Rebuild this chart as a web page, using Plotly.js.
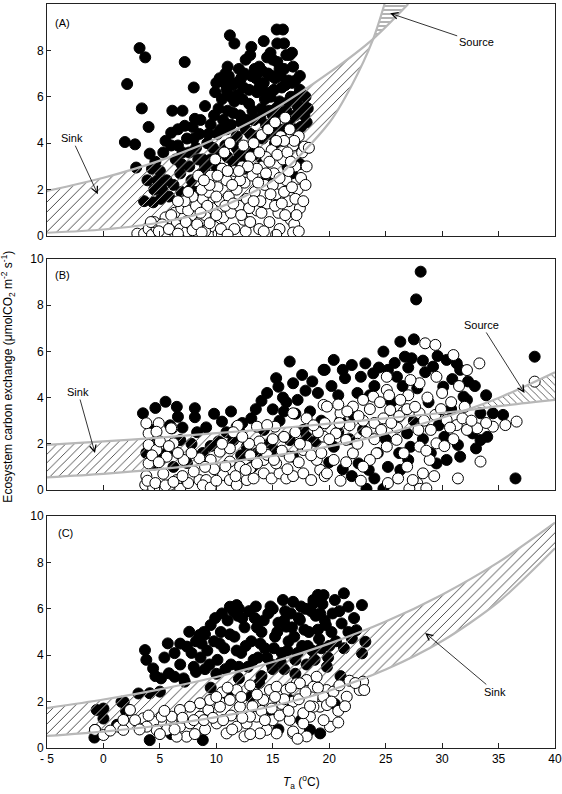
<!DOCTYPE html>
<html>
<head>
<meta charset="utf-8">
<script src="https://cdn.plot.ly/plotly-3.0.1.min.js"></script>
<style>
  html,body{margin:0;padding:0;background:#fff;}
  #chart{width:562px;height:794px;}
</style>
</head>
<body>
<div id="chart"></div>
<script>
// ---- data (T_a in degC, exchange in umol m-2 s-1) ----
const xRange = [-5, 40];
const yRange = [0, 10];
const xTickVals = [-5, 0, 5, 10, 15, 20, 25, 30, 35, 40];
const xTickText = ['- 5', '0', '5', '10', '15', '20', '25', '30', '35', '40'];

// panel A
const aBlack = [[2.1,6.55],[3.2,8.1],[3.7,7.7],[3.4,5.5],[4.0,4.7],[1.9,4.05],[2.8,3.95],[2.9,2.95],[7.2,7.5],[8.0,6.4],[6.1,5.4],[7.0,5.4],[7.2,4.75],[8.1,5.05],[6.0,4.45],[11.2,8.65],[11.6,8.3],[15.35,8.9],[13.1,8.15],[14.2,8.4],[15.4,8.3],[16.7,7.9],[10.8,7.0],[9.9,6.2],[11.4,6.5],[12.2,6.8],[13.4,7.2],[14.8,7.9],[12.6,7.6],[15.9,8.9],[16.0,8.3],[16.5,7.8],[17.0,6.7],[17.4,6.3],[17.9,5.55],
  [3.6,1.5],[4.4,1.45],[4.1,3.55],[4.6,3.2],[5.0,2.8],[5.3,3.6],[5.6,2.4],[5.2,2.0],[4.8,2.4],[6.0,3.9],[6.4,3.3],[6.8,2.7],[6.2,2.2],[7.0,3.6],[7.4,4.2],[7.6,3.0],[7.8,2.4],[8.2,3.8],[8.5,4.4],[8.8,3.3],[9.0,2.6],[9.2,4.0],[9.5,4.8],[8.6,5.0],[9.0,5.6],[9.8,5.2],[10.1,4.4],[10.4,3.6],[5.5,4.1],[6.6,4.6],[7.9,4.7],[5.8,1.7],[6.9,1.9],[4.5,2.0],[3.9,2.4],[4.3,2.9],[5.1,1.6],
  [10.0,6.6],[10.5,5.9],[10.9,6.3],[11.0,5.4],[11.3,4.8],[11.6,5.8],[11.9,6.1],[12.1,5.2],[12.4,6.4],[12.6,4.6],[12.9,5.7],[13.1,6.9],[13.3,5.0],[13.6,6.2],[13.8,7.3],[14.0,5.5],[14.2,6.6],[14.4,4.8],[14.6,7.0],[14.8,6.0],[15.0,5.2],[15.2,6.8],[15.4,7.5],[15.6,5.8],[15.8,6.4],[16.0,7.2],[16.2,5.4],[16.4,6.7],[16.6,6.0],[16.8,7.3],[17.0,6.0],[17.2,5.6],[17.4,6.9],[17.6,6.1],[17.8,5.2],[18.1,5.5],[16.2,7.8],[15.0,7.6],[14.5,7.7],[13.0,7.8],[12.0,7.2],[11.0,7.3],[10.3,6.8],[13.5,4.3],[14.8,4.4],[16.0,4.6],[11.8,4.3],[12.8,3.8],[10.8,3.9],[15.2,4.0],[16.5,5.0],[17.5,4.7],[13.9,3.4],[11.5,3.2],[10.0,3.0],[9.4,2.2],[8.3,1.9],[7.3,1.6],[16.7,2.7],[14.5,2.5],[12.5,2.9],[17.4,3.1],[12.3,5.9],[13.8,6.4],[14.9,6.9],[15.7,6.9],[10.6,5.0],[12.7,5.0],[14.3,5.9],[11.3,6.0],[9.5,3.3],[10.9,4.6],
  [10.2,5.5],[10.7,6.6],[11.1,6.9],[11.5,5.3],[11.8,6.6],[12.2,4.9],[12.5,7.0],[12.9,6.3],[13.2,5.4],[13.5,6.8],[13.9,5.1],[14.1,7.1],[14.4,6.2],[14.7,5.4],[15.1,6.3],[15.3,5.5],[15.6,7.2],[15.9,5.2],[16.1,6.5],[16.4,5.8],[16.7,6.6],[17.0,5.2],[17.3,6.0],[17.6,5.5],[17.9,6.0],[18.0,4.9],[16.9,4.6],[15.5,4.6],[14.1,4.2],[13.0,4.4],[12.0,3.6],[11.0,3.4],[11.8,3.8],[12.4,3.4],[13.4,3.7],[10.4,4.6],[9.7,3.8],[9.0,3.0],[8.4,3.3],[7.6,3.6],[6.6,3.9],[6.9,3.1],[8.0,4.2],[9.3,4.4],[7.7,2.0],[8.7,2.7],[10.6,2.7],[15.8,4.1],[17.1,3.9],[16.3,3.0]];
const aWhite = [[3.0,0.1],[3.6,0.1],[4.0,0.3],[4.3,0.05],[4.7,0.35],[5.0,0.1],[5.3,0.4],[5.6,0.15],[5.9,0.5],[6.2,0.2],[6.5,0.6],[6.8,0.3],[7.1,0.8],[7.4,0.2],[7.7,0.5],[8.0,0.9],[4.5,0.6],[5.5,0.8],[6.3,1.0],[6.9,1.2],[7.5,1.1],[8.2,1.3],[8.5,0.6],[8.8,1.6],[9.0,0.9],[9.3,1.9],[9.6,1.2],[9.8,0.4],[10.1,2.1],[10.3,1.5],[10.6,0.8],[10.9,2.4],[11.1,1.7],[11.3,1.0],[11.6,2.8],[11.8,2.0],[12.0,1.3],[12.3,3.0],[12.5,2.3],[12.7,1.6],[13.0,3.4],[13.2,2.6],[13.4,1.9],[13.6,1.1],[13.8,0.3],[14.0,4.35],[14.1,3.0],[14.3,2.2],[14.5,1.4],[14.7,0.6],[14.9,3.7],[15.1,2.7],[15.3,1.8],[15.5,1.0],[15.7,4.3],[15.9,3.3],[16.1,5.1],[16.2,2.4],[16.4,1.5],[16.6,0.7],[16.8,3.9],[17.0,3.0],[17.2,2.0],[17.4,1.2],[17.6,3.6],[17.8,3.85],[18.2,3.8],[17.3,4.3],[16.5,4.6],[15.6,0.3],[14.2,0.2],[12.4,0.7],[11.6,0.3],[11.2,4.0],[12.4,3.9],[10.5,2.9],[9.5,2.6],[8.7,2.0],[7.9,1.7],[7.2,1.5],[8.4,2.6],[9.9,3.3],[10.7,3.6],[13.3,4.0],[14.6,4.6],[15.2,4.9],[16.9,0.5],[17.1,0.9],[13.9,1.5],[12.9,1.2],[12.1,2.4],[11.4,2.2],[10.0,1.7],[9.2,1.3],[8.6,1.0],[6.0,0.9],[5.2,0.5],[4.2,0.6],[15.4,3.5],[16.3,3.6],[14.4,3.4],[13.6,2.9],[15.0,2.2],[16.0,1.9],[17.5,2.5],[16.7,2.1],[9.0,0.2],[10.2,0.1],[16.8,0.15],[15.3,0.05],
  [4.9,0.2],[5.8,0.3],[6.6,0.1],[7.3,0.6],[7.9,0.25],[8.3,0.5],[8.7,0.15],[9.4,0.55],[10.0,0.9],[10.4,0.3],[10.8,1.3],[11.0,0.05],[11.5,1.4],[12.2,0.9],[12.6,0.2],[13.0,0.6],[13.3,1.5],[13.7,2.3],[14.0,1.0],[14.4,2.7],[14.8,1.8],[15.2,1.3],[15.6,2.5],[15.8,1.4],[16.1,0.9],[16.4,2.8],[16.6,3.2],[17.0,1.6],[17.3,0.2],[17.7,1.5],[17.9,2.2],[18.0,3.0],[16.9,4.1],[16.0,4.1],[15.3,4.1],[14.7,3.2],[13.8,3.6],[12.8,3.0],[12.0,2.8],[11.0,2.8],[10.1,2.6],[9.4,2.2],[8.9,2.4],[7.5,1.9],[6.6,1.5]];
const aCurveUpT = [-5, 0, 5, 10, 15, 20, 23.9, 27];
const aCurveUp  = [1.94, 2.51, 3.25, 4.2, 5.44, 7.04, 8.5, 10.0];
const aCurveLoT = [-5, 0, 5, 10, 15, 20, 22, 23.9, 24.9];
const aCurveLo  = [0.14, 0.28, 0.58, 1.18, 2.4, 4.88, 6.5, 8.5, 10.0];

// panel B
const bBlack = [[3.5,3.32],[4.6,3.55],[5.5,3.82],[6.5,3.6],[6.6,3.17],[8.1,3.54],[8.1,3.15],[9.1,2.71],[10.5,2.96],[13.1,3.1],[14.0,3.86],[15.0,3.49],[15.3,4.84],[15.5,4.47],[16.5,5.56],[16.8,4.62],[17.6,4.98],[19.6,5.2],
  [4.7,2.03],[5.0,1.3],[6.8,2.16],[7.4,1.17],[5.6,1.6],[8.3,2.5],[3.8,1.6],[4.2,2.6],[5.9,2.8],[6.2,1.0],[7.0,2.7],[4.5,1.1],
  [11.5,2.16],[12.7,1.87],[13.6,1.59],[14.8,2.03],[16.5,2.16],[16.8,1.44],[14.2,2.6],[17.7,2.6],[12.0,2.6],[15.6,3.0],[18.3,3.4],[18.8,2.1],[13.2,1.0],[17.2,3.9],[16.0,3.4],[19.0,4.2],
  [28.1,9.45],[27.7,8.25],[27.5,6.52],[26.3,6.42],[24.8,5.99],[26.7,5.77],[30.4,5.63],[31.3,5.48],[38.2,5.77],[32.9,4.5],[36.5,0.5],[23.3,0.05],[24.8,0.05],[20.4,5.63],[22.0,5.41],[23.2,5.48],[23.9,5.05],[19.5,5.2],[21.4,4.84],[29.2,5.34],[30.1,4.47],[31.9,4.04],[33.4,3.32],[34.5,3.32],[35.4,3.25],[31.4,1.95],[31.6,1.44],[30.4,1.3],[29.5,1.15],[26.3,0.87],[23.5,0.87],[22.6,1.15],[27.0,1.3],[27.2,1.87],[26.9,2.45],[32.7,2.45],[33.4,2.16],[20.4,1.87],
  [22.5,4.2],[24.0,4.5],[25.5,3.8],[26.0,4.9],[27.8,4.4],[28.8,3.8],[21.0,3.0],[23.0,2.6],[25.0,2.2],[27.5,3.0],[29.7,2.8],[24.3,1.6],[21.8,2.2],[20.0,1.2],[22.0,0.6],[28.3,5.6],[25.2,5.2],[20.8,4.1],[30.8,3.5],[27.0,5.3],
  [9.8,3.3],[10.9,2.5],[11.3,3.4],[12.3,2.9],[13.5,3.5],[14.5,4.2],[15.9,4.0],[16.2,3.8],[17.0,3.3],[17.9,4.3],[18.5,4.7],[19.3,3.0],[18.0,2.3],[15.2,1.7],[14.0,1.3],[12.2,1.5],[10.2,2.1],[9.5,1.9],[8.8,1.6],[7.8,2.0],
  [20.2,4.5],[21.2,5.2],[22.8,4.9],[23.6,4.1],[24.4,5.3],[25.8,5.5],[26.5,4.5],[27.3,5.7],[28.5,5.1],[29.6,5.8],[30.9,4.8],[31.6,5.2],[32.3,4.7],[33.9,4.1],[32.2,3.9],[30.2,2.3],[28.3,2.2],[26.2,1.6],[25.2,1.0],[24.0,0.5],[21.2,0.9],[20.8,2.5],[22.2,3.2],[29.0,1.6],[33.0,1.8],[34.0,2.3]];
const bWhite = [[3.7,0.22],[4.4,0.1],[5.0,0.0],[5.9,0.22],[6.5,0.43],[6.8,0.05],[8.5,0.43],[9.1,0.43],[10.6,0.65],[11.2,0.43],[11.8,0.22],[12.7,0.43],[13.3,0.5],[14.2,0.72],[14.9,0.5],[15.6,0.72],[16.2,0.5],[16.8,0.6],[17.7,0.72],[18.4,0.43],[19.2,0.87],[19.6,0.6],
  [4.9,2.89],[6.1,2.67],[4.0,2.45],[11.8,2.74],[16.8,3.32],[18.0,3.1],[19.5,3.68],[19.5,2.31],[15.2,2.74],[3.8,2.89],[4.7,2.52],[6.0,2.67],[11.9,2.78],[13.6,2.74],[14.5,2.81],
  [4.0,1.95],[4.7,1.73],[5.6,1.44],[6.2,2.02],[7.1,1.3],[8.5,1.37],[9.5,1.3],[11.2,1.23],[12.1,1.01],[13.0,0.94],[14.2,1.3],[15.3,1.15],[16.5,1.44],[17.7,1.73],[18.9,1.3],[4.0,1.15],[10.3,1.66],[11.2,1.8],[10.8,1.03],[11.7,0.6],[12.6,0.87],[13.6,1.15],[14.5,1.52],[15.1,1.3],[7.5,0.3],[8.0,0.8],[9.8,0.9],[5.3,0.7],[3.8,0.6],[13.8,2.1],[12.9,2.0],[17.0,2.5],[18.0,1.9],[16.0,2.3],[19.0,2.5],
  [28.5,6.35],[29.4,6.28],[31.0,5.84],[33.3,5.48],[32.2,5.19],[29.5,4.9],[28.0,4.62],[27.2,4.76],[25.1,4.9],[25.1,4.33],[23.9,4.04],[23.0,3.9],[22.1,3.61],[21.0,3.32],[19.8,3.61],[19.6,2.89],[38.2,4.69],[36.6,2.96],[35.6,2.81],[34.5,2.74],[33.4,1.23],[31.4,0.5],[33.1,2.67],[32.2,2.6],[31.3,2.81],[30.4,3.03],[29.4,3.25],[28.0,3.32],[26.6,3.39],[25.4,3.46],
  [29.5,2.02],[28.0,1.88],[28.9,1.3],[28.3,0.72],[27.8,0.29],[28.0,0.05],[28.6,0.07],[27.1,0.05],[27.4,0.43],[26.9,1.01],[26.6,1.59],[25.97,2.17],[25.1,1.88],[24.2,1.59],[23.6,1.3],[23.0,1.01],[22.1,1.59],[21.5,2.17],[20.6,2.45],[20.4,1.3],[19.8,0.72],
  [24.0,2.9],[24.8,3.1],[26.0,2.7],[27.0,4.1],[28.7,4.0],[30.0,4.2],[31.5,4.5],[30.8,3.8],[23.0,3.0],[21.8,2.8],[22.5,2.0],[24.5,3.8],[26.3,3.9],[32.0,3.6],[29.0,2.6],[31.0,2.2],[20.8,3.7],[21.5,1.2],
  [3.9,0.4],[4.6,0.3],[5.5,0.2],[6.2,0.35],[7.0,0.6],[8.8,0.2],[9.5,0.1],[10.0,0.4],[4.3,1.5],[4.9,1.2],[5.0,2.1],[5.8,1.9],[6.6,1.6],[7.8,1.6],[9.0,1.0],[10.5,2.0],[11.5,2.5],[12.3,2.3],[13.0,1.5],[14.0,1.8],[15.0,2.2],[15.8,1.7],[16.3,0.9],[17.3,1.2],[18.4,1.5],[19.3,1.6],[18.6,2.8],[17.4,2.0],
  [20.0,2.2],[20.9,2.9],[21.6,3.4],[22.6,3.2],[23.3,2.5],[24.0,2.2],[24.6,2.6],[25.5,2.9],[26.2,3.2],[26.9,3.5],[27.6,3.6],[28.4,3.0],[29.9,3.5],[30.7,2.7],[31.8,3.1],[32.6,3.0],[33.9,2.9],[25.3,4.1],[23.6,3.5],[27.9,2.6],[26.1,0.5],[25.2,0.3],[29.3,0.6],[28.6,1.7],[22.8,0.4],[21.0,0.4],[30.2,1.9]];
const bCurveT    = [-5, 0, 5, 10, 15, 20, 25, 32, 35, 40];
const bCurveFlat = [1.95, 2.1, 2.27, 2.46, 2.65, 2.87, 3.1, 3.44, 3.63, 3.9];
const bCurveStep = [0.55, 0.70, 0.90, 1.16, 1.48, 1.89, 2.43, 3.44, 3.98, 5.1];

// panel C
const cBlack = [[3.68,4.22],[3.8,3.8],[4.4,3.43],[5.7,4.51],[6.3,4.09],[7.6,5.01],[8.5,4.87],[8.9,5.0],[7.4,4.37],[8.0,3.5],[6.3,3.07],[7.2,2.86],[8.2,3.28],[11.2,6.09],[11.8,6.16],[15.9,6.38],[19.0,6.6],[18.6,6.24],[3.1,2.35],[5.0,2.43],[1.8,1.99],[0.0,1.7],[0.0,1.27],[-0.75,0.78],[-0.6,1.64],[1.6,1.99],[4.1,2.36],[5.8,3.22],[5.1,3.0],[7.1,3.0],
  [9.2,4.2],[9.5,5.3],[9.8,4.6],[10.1,3.8],[10.4,5.0],[10.7,4.3],[11.0,5.5],[11.3,3.6],[11.6,4.8],[11.9,5.7],[12.2,4.1],[12.5,5.2],[12.8,3.5],[13.1,4.6],[13.4,5.6],[13.7,3.9],[14.0,5.0],[14.3,4.3],[14.6,5.8],[14.9,3.6],[15.2,4.8],[15.5,5.4],[15.8,4.1],[16.1,5.9],[16.4,4.6],[16.7,5.2],[17.0,3.8],[17.3,5.6],[17.6,4.4],[17.9,6.0],[18.2,5.0],[18.5,4.2],[18.8,5.7],[19.1,4.7],[19.4,6.2],[19.7,5.3],[20.0,4.4],[20.3,5.8],[12.0,6.0],[13.5,6.1],[15.0,6.0],[16.8,6.3],[10.5,5.8],[9.0,4.9],[10.0,3.2],[12.0,3.0],[14.0,3.1],[16.0,3.4],[18.0,3.6],[8.6,3.9],[8.7,4.5],
  [18.6,6.38],[19.5,6.59],[20.5,6.38],[21.3,6.67],[21.7,6.09],[22.9,6.16],[22.4,5.08],[23.2,4.58],[22.9,4.08],[22.0,4.73],[21.1,5.37],[19.2,5.8],[17.4,5.52],[16.2,5.23],
  [4.1,0.34],[8.8,0.34],[19.2,0.63],[14.8,1.64],[16.5,2.07],[18.3,0.78],[13.0,2.2],[11.0,2.3],[17.5,1.2],[20.5,1.9],[9.5,2.6],[2.0,1.6],[1.2,1.0],[6.0,0.6],[15.5,0.8],[21.0,3.1],[19.8,3.5],[-0.8,0.45],
  [9.4,3.6],[9.9,5.6],[10.3,4.5],[10.8,3.4],[11.2,4.9],[11.5,5.9],[11.8,4.2],[12.3,5.6],[12.6,4.4],[12.9,5.9],[13.3,3.8],[13.6,5.2],[13.9,4.5],[14.2,5.5],[14.5,3.9],[14.8,6.1],[15.1,4.3],[15.4,5.0],[15.7,3.7],[16.0,5.5],[16.3,4.2],[16.6,5.8],[16.9,4.8],[17.2,4.1],[17.5,6.1],[17.8,5.1],[18.1,4.4],[18.4,5.9],[18.7,3.8],[19.0,5.1],[19.3,4.3],[19.6,5.5],[19.9,3.9],[20.2,5.0],[20.6,4.6],[20.9,5.9],[21.3,4.3],[21.7,5.0],[22.2,5.6],[8.2,4.6],[7.8,4.1],[6.8,3.6],[6.8,4.5],[5.4,3.9],[4.6,3.1],[9.0,3.4],[12.0,3.5],[15.0,3.4],[13.8,2.8],[17.0,3.2]];
const cWhite = [[-0.75,0.78],[0.0,0.56],[1.32,0.92],[1.76,0.78],[1.76,1.21],[3.53,1.28],[4.42,1.14],[5.16,1.35],[6.04,1.06],[6.78,0.92],[7.67,1.06],[8.55,1.35],[9.29,1.64],[10.03,1.06],[10.91,0.63],[11.8,0.92],[12.68,1.06],[13.57,1.35],[14.16,2.07],[14.75,2.5],[15.34,2.64],[16.23,2.5],[17.11,2.79],[18.0,2.93],[18.88,3.07],[19.77,2.5],[19.47,2.07],[19.18,1.78],[18.29,1.35],[17.7,1.06],[16.81,0.63],[15.34,0.63],[14.46,0.78],[13.86,0.63],[12.98,1.35],[12.09,1.78],[11.2,2.07],[10.32,1.78],[9.44,2.07],[8.55,1.93],[7.67,1.78],[6.78,1.64],[6.04,1.35],[7.37,0.49],[6.49,0.49],[5.6,0.78],[4.71,0.78],[3.83,0.92],[2.35,1.64],
  [22.7,2.5],[23.0,2.86],[21.55,2.21],[20.37,2.43],[19.48,2.21],[18.6,2.64],[17.4,2.79],[16.2,2.5],[20.07,0.92],[16.8,0.71],[18.6,1.78],[17.7,1.5],[16.5,1.21],[19.8,1.85],
  [10.5,2.4],[11.8,2.5],[13.0,2.7],[14.0,1.6],[15.8,1.9],[12.5,0.5],[9.0,0.8],[8.0,1.2],[11.3,1.4],[20.8,1.6],[21.8,2.9],[15.0,1.2],[16.8,2.0],
  [0.6,0.75],[2.8,1.2],[3.2,0.8],[4.0,1.4],[5.0,0.6],[5.4,1.6],[6.3,0.8],[7.0,1.3],[8.1,0.6],[8.9,1.2],[9.7,1.3],[10.6,1.2],[11.4,0.8],[12.3,1.3],[13.2,1.8],[13.6,2.3],[14.3,1.2],[14.9,1.7],[15.6,1.4],[16.0,2.1],[16.6,2.6],[17.3,2.1],[17.9,2.4],[18.3,1.8],[19.0,2.6],[20.2,2.0],[20.9,2.7],[21.4,1.8],[22.3,2.8],[23.1,2.5],[10.0,2.2],[11.0,2.6],[12.2,2.2],[15.2,2.2],[16.4,1.6],[19.5,1.2],[20.8,1.1],[18.0,0.5],[17.2,0.4],[13.0,0.6]];
const cCurveT  = [-5, 0, 5, 10, 15, 20, 25, 30, 35, 40];
const cCurveUp = [1.72, 2.09, 2.53, 3.06, 3.71, 4.5, 5.45, 6.61, 8.01, 9.71];
const cCurveLo = [0.52, 0.71, 0.97, 1.33, 1.81, 2.47, 3.38, 4.61, 6.3, 8.61];

// ---- build traces ----
const FONT = 'Liberation Sans, Arial, Helvetica, sans-serif';
const curveGray = '#b8b8b8';

// white box behind each panel, so the hatch can be drawn in "difference" mode
function bgBox(xa, ya){
  return {type:'scatter', mode:'lines', xaxis:xa, yaxis:ya,
    x:[xRange[0], xRange[1], xRange[1], xRange[0]], y:[yRange[0], yRange[0], yRange[1], yRange[1]],
    fill:'toself', fillcolor:'#fff', line:{width:0}, hoverinfo:'skip', showlegend:false};
}
function pts(list, xa, ya, filled){
  return {type:'scatter', mode:'markers', xaxis:xa, yaxis:ya,
    x:list.map(p=>p[0]), y:list.map(p=>p[1]),
    marker:{size:11, color: filled ? '#000' : '#fff', line:{color:'#000', width:1}},
    hoverinfo:'skip', showlegend:false};
}
function edge(x, y, xa, ya){
  return {type:'scatter', mode:'lines', xaxis:xa, yaxis:ya, x, y,
    line:{width:0, shape:'spline', smoothing:0.8}, hoverinfo:'skip', showlegend:false};
}
function hatch(x, y, xa, ya, shape, size, solidity){
  return {type:'scatter', mode:'lines', xaxis:xa, yaxis:ya, x, y,
    line:{width:0, shape:'spline', smoothing:0.8}, fill:'tonexty', fillcolor:'rgba(0,0,0,0)',
    fillpattern:{shape, size, solidity, fgcolor:'#fff', bgcolor:'rgba(0,0,0,0)'},
    hoverinfo:'skip', showlegend:false};
}
function curve(x, y, xa, ya){
  return {type:'scatter', mode:'lines', xaxis:xa, yaxis:ya, x, y,
    line:{color:curveGray, width:2.2, shape:'spline', smoothing:0.8}, hoverinfo:'skip', showlegend:false};
}

const traces = [];
// A
const aUpCross = aCurveUpT.indexOf(23.9), aLoCross = aCurveLoT.indexOf(23.9);
traces.push(bgBox('x', 'y'));
traces.push(pts(aBlack, 'x', 'y', true));
traces.push(edge(aCurveLoT.slice(0, aLoCross+1), aCurveLo.slice(0, aLoCross+1), 'x', 'y'));
traces.push(hatch(aCurveUpT.slice(0, aUpCross+1), aCurveUp.slice(0, aUpCross+1), 'x', 'y', '/', 7, 0.1));
traces.push(edge(aCurveLoT.slice(aLoCross), aCurveLo.slice(aLoCross), 'x', 'y'));
traces.push(hatch(aCurveUpT.slice(aUpCross), aCurveUp.slice(aUpCross), 'x', 'y', '-', 4, 0.15));
traces.push(pts(aWhite, 'x', 'y', false));
traces.push(curve(aCurveUpT, aCurveUp, 'x', 'y'));
traces.push(curve(aCurveLoT, aCurveLo, 'x', 'y'));
// B
const bCross = bCurveT.indexOf(32);
traces.push(bgBox('x2', 'y2'));
traces.push(pts(bBlack, 'x2', 'y2', true));
traces.push(edge(bCurveT.slice(0, bCross+1), bCurveStep.slice(0, bCross+1), 'x2', 'y2'));
traces.push(hatch(bCurveT.slice(0, bCross+1), bCurveFlat.slice(0, bCross+1), 'x2', 'y2', '/', 6, 0.11));
traces.push(edge(bCurveT.slice(bCross), bCurveFlat.slice(bCross), 'x2', 'y2'));
traces.push(hatch(bCurveT.slice(bCross), bCurveStep.slice(bCross), 'x2', 'y2', '\\', 5, 0.12));
traces.push(pts(bWhite, 'x2', 'y2', false));
traces.push(curve(bCurveT, bCurveFlat, 'x2', 'y2'));
traces.push(curve(bCurveT, bCurveStep, 'x2', 'y2'));
// C
traces.push(bgBox('x3', 'y3'));
traces.push(pts(cBlack, 'x3', 'y3', true));
traces.push(edge(cCurveT, cCurveLo, 'x3', 'y3'));
traces.push(hatch(cCurveT, cCurveUp, 'x3', 'y3', '/', 7, 0.1));
traces.push(pts(cWhite, 'x3', 'y3', false));
traces.push(curve(cCurveT, cCurveUp, 'x3', 'y3'));
traces.push(curve(cCurveT, cCurveLo, 'x3', 'y3'));

// ---- layout ----
const axLine = {showline:true, linecolor:'#222', linewidth:1, mirror:true, showgrid:false, zeroline:false,
  ticks:'inside', tickcolor:'#222', tickfont:{family:FONT, size:12, color:'#000'}, fixedrange:true};
function xAx(anchor, labels){
  return Object.assign({}, axLine, {anchor, range:xRange, tickvals:xTickVals, ticktext:xTickText,
    ticklen:5, showticklabels:labels});
}
function yAx(anchor, domain){
  return Object.assign({}, axLine, {anchor, domain, range:yRange, tick0:0, dtick:2, ticklen:4});
}

const annFont = {family:FONT, size:11, color:'#000'};
function note(text, xref, yref, x, y, ax, ay){
  return {text, xref, yref, x, y, ax, ay, showarrow:true, arrowhead:5, arrowsize:1.6, arrowwidth:0.8,
    arrowcolor:'#000', font:annFont};
}
function tag(text, xref, yref, x, y){
  return {text, xref, yref, x, y, showarrow:false, font:annFont};
}

const layout = {
  width:562, height:794,
  margin:{l:47, r:7, t:4, b:46},
  paper_bgcolor:'#fff', plot_bgcolor:'#fff',
  showlegend:false, hovermode:false,
  font:{family:FONT, color:'#000'},
  xaxis: xAx('y', false),
  xaxis2: xAx('y2', false),
  xaxis3: xAx('y3', true),
  yaxis: yAx('x', [0.6882, 1]),
  yaxis2: yAx('x2', [0.3468, 0.6573]),
  yaxis3: yAx('x3', [0, 0.3118]),
  annotations:[
    tag('(A)', 'x', 'y', -3.65, 9.2),
    tag('(B)', 'x2', 'y2', -3.6, 9.3),
    tag('(C)', 'x3', 'y3', -3.4, 9.27),
    note('Sink', 'x', 'y', -0.5, 1.8, -26, -56),
    note('Source', 'x', 'y', 25.4, 9.6, 86, 29),
    note('Sink', 'x2', 'y2', -0.75, 1.6, -17, -61),
    note('Source', 'x2', 'y2', 37.3, 4.2, -43, -68),
    note('Sink', 'x3', 'y3', 28.5, 4.96, 70, 59),
    {text:'Ecosystem carbon exchange (μmolCO<sub>2</sub> m<sup>-2</sup> s<sup>-1</sup>)',
      xref:'paper', yref:'paper', x:-0.077, y:0.499, xanchor:'center', yanchor:'middle',
      textangle:-90, showarrow:false, font:{family:FONT, size:12, color:'#000'}},
    {text:'<i>T</i><sub>a</sub> (<sup>o</sup>C)', xref:'paper', yref:'paper', x:0.5, y:-0.046,
      xanchor:'center', yanchor:'middle', showarrow:false, font:{family:FONT, size:12, color:'#000'}}
  ]
};

Plotly.newPlot('chart', traces, layout, {staticPlot:true, displayModeBar:false}).then(gd => {
  // hatch drawn in "difference" mode: dark on white, light over the black dots
  gd.querySelectorAll('path.js-fill').forEach(p => {
    if((p.style.fill || p.getAttribute('style') || '').indexOf('url(') >= 0) p.style.mixBlendMode = 'difference';
  });
});
</script>
</body>
</html>
